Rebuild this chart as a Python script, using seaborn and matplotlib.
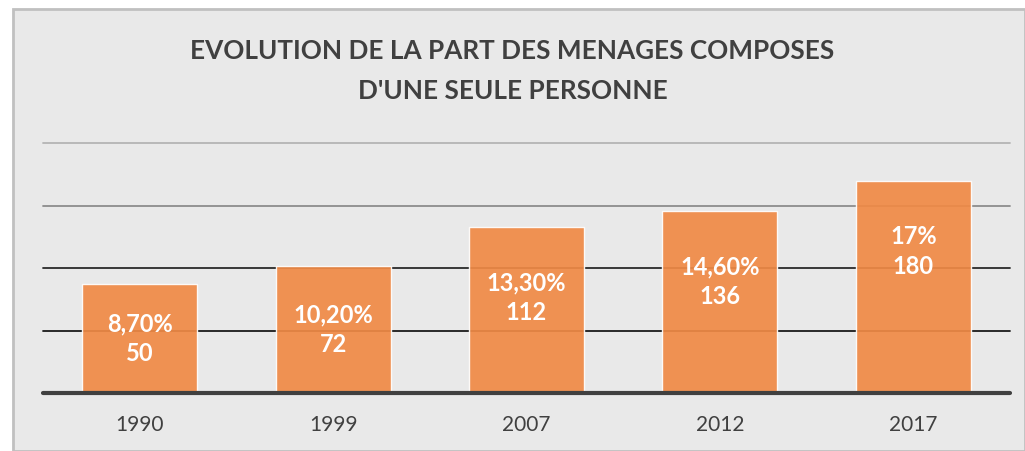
import matplotlib
matplotlib.use("Agg")
import matplotlib.pyplot as plt
import seaborn as sns
import pandas as pd
from matplotlib.patches import Rectangle

# Data
years = ["1990", "1999", "2007", "2012", "2017"]
share_pct = [8.7, 10.2, 13.3, 14.6, 17.0]
share_labels = ["8,70%", "10,20%", "13,30%", "14,60%", "17%"]
counts = [50, 72, 112, 136, 180]

df = pd.DataFrame({"year": years, "share": share_pct})

sns.set_theme(style="white")
plt.rcParams["font.family"] = ["Lato", "DejaVu Sans"]

bg = "#e9e9e9"
fig = plt.figure(figsize=(10.25, 4.51), dpi=100, facecolor="white")
# grey chart frame, kept behind the axes
fig.patches.append(Rectangle((13 / 1025, 0), 1 - 13 / 1025, 1 - 9 / 451,
                             transform=fig.transFigure, facecolor=bg,
                             edgecolor="#c0c0c0", linewidth=2, zorder=-10))
ax = fig.add_axes([43 / 1025, 1 - 393 / 451, (1010 - 43) / 1025, (393 - 143) / 451])
ax.patch.set_alpha(0)

sns.barplot(data=df, x="year", y="share", color="#f08a45", alpha=0.92,
            width=0.595, saturation=1, ax=ax, zorder=1)

ax.set_ylim(0, 20)
grid_colors = {5: "#1a1a1a", 10: "#2a2a2a", 15: "#8c8c8c", 20: "#b4b4b4"}
for lvl, c in grid_colors.items():
    ax.axhline(lvl, color=c, lw=1.3, zorder=0.5, clip_on=False)
ax.axhline(0, color="#404040", lw=3, zorder=3, clip_on=False)

for i, (v, s, n) in enumerate(zip(share_pct, share_labels, counts)):
    y = max(v / 2, v - 5.7)
    ax.text(i, y, f"{s}\n{n}", ha="center", va="center", color="white",
            fontsize=17, fontweight="bold", linespacing=1.35, zorder=4)

for sp in ax.spines.values():
    sp.set_visible(False)
ax.set_yticks([])
ax.set_xlabel("")
ax.set_ylabel("")
ax.tick_params(axis="x", length=0, pad=16, labelsize=15, labelcolor="#404040")

fig.text(0.5, 1 - 51 / 451, "EVOLUTION DE LA PART DES MENAGES COMPOSES",
         ha="center", va="center", fontsize=18.8, fontweight="bold", color="#404040")
fig.text(0.5, 1 - 91 / 451, "D'UNE SEULE PERSONNE",
         ha="center", va="center", fontsize=18.8, fontweight="bold", color="#404040")

fig.savefig("out.png", dpi=100, facecolor="white")
